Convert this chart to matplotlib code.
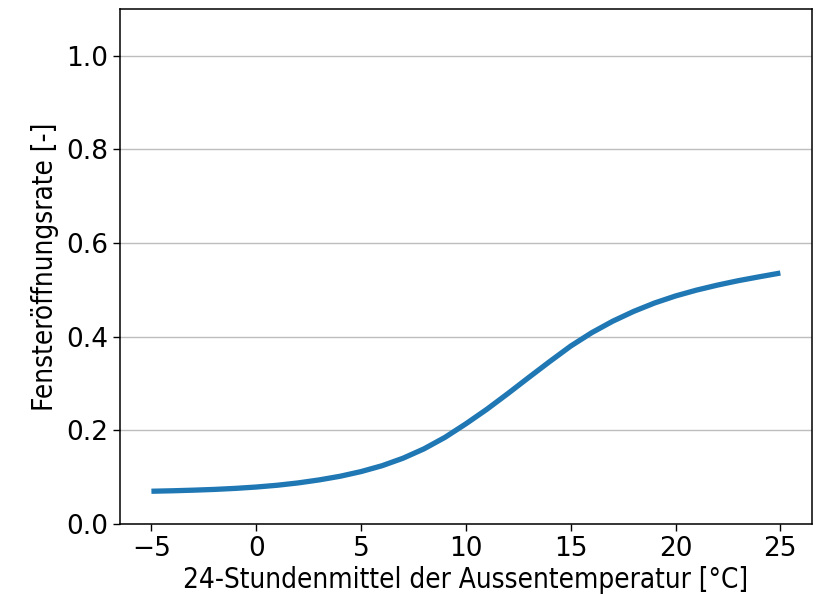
import matplotlib
matplotlib.use("Agg")
import matplotlib.pyplot as plt

temperature = [-5, -4, -3, -2, -1, 0, 1, 2, 3, 4, 5, 6, 7, 8, 9, 10,
               11, 12, 13, 14, 15, 16, 17, 18, 19, 20, 21, 22, 23, 24, 25]
opening_rate = [0.0700, 0.0710, 0.0723, 0.0739, 0.0761, 0.0790, 0.0828, 0.0878,
                0.0942, 0.1020, 0.1120, 0.1245, 0.1405, 0.1605, 0.1850, 0.2140,
                0.2450, 0.2785, 0.3130, 0.3470, 0.3800, 0.4085, 0.4330, 0.4540,
                0.4720, 0.4870, 0.4995, 0.5102, 0.5197, 0.5280, 0.5360]
x_ticks = [-5, 0, 5, 10, 15, 20, 25]
y_ticks = [0.0, 0.2, 0.4, 0.6, 0.8, 1.0]
x_label = "24-Stundenmittel der Aussentemperatur [°C]"
y_label = "Fensteröffnungsrate [-]"

fig = plt.figure(figsize=(8.2, 5.94), dpi=100)
ax = fig.add_axes([0.1463, 0.1178, 0.8437, 0.8672])
ax.plot(temperature, opening_rate, color="#1f77b4", linewidth=3.8,
        solid_capstyle="butt", solid_joinstyle="round", zorder=3)
ax.set_xlim(-6.5, 26.5)
ax.set_ylim(0, 1.1)
ax.set_xticks(x_ticks)
ax.set_yticks(y_ticks)
ax.set_yticklabels([f"{v:.1f}" for v in y_ticks])
ax.grid(axis="y", color="#bdbdbd", linewidth=1.0)
ax.set_axisbelow(True)
ax.tick_params(labelsize=19, length=5, width=1.0)
for s in ax.spines.values():
    s.set_linewidth(1.1)
ax.set_xlabel(x_label, fontsize=20, family="DejaVu Sans", fontstretch="condensed", labelpad=3)
ax.set_ylabel(y_label, fontsize=20, family="DejaVu Sans", fontstretch="condensed", labelpad=5)
fig.savefig("out.png", dpi=100)
